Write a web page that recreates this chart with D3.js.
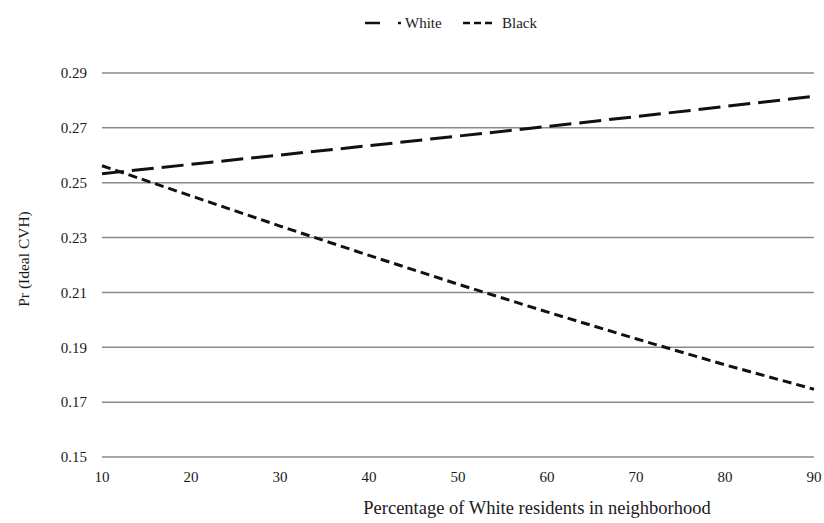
<!DOCTYPE html>
<html><head><meta charset="utf-8">
<script src="https://cdn.jsdelivr.net/npm/d3@7"></script>
<style>body{margin:0;background:#fff}svg{display:block}text{font-family:"Liberation Serif","Times New Roman",serif;fill:#1a1a1a}</style>
</head><body><svg id="c" width="824" height="523"></svg>
<script>
const xValues = [10,20,30,40,50,60,70,80,90];
const whiteValues = [0.2533,0.2567,0.2601,0.2635,0.2670,0.2705,0.2741,0.2778,0.2815];
const blackValues = [0.2562,0.2452,0.2342,0.2235,0.2130,0.2029,0.1931,0.1836,0.1747];
const yTicks = [0.15,0.17,0.19,0.21,0.23,0.25,0.27,0.29];
const seriesNames = ["White","Black"];

const svg = d3.select("#c");
const x = d3.scaleLinear().domain([10,90]).range([102,814]);
const y = d3.scaleLinear().domain([0.15,0.29]).range([457,73]);

// gridlines
svg.append("g").selectAll("line").data(yTicks).join("line")
  .attr("x1",x(10)).attr("x2",x(90)).attr("y1",d=>y(d)).attr("y2",d=>y(d))
  .attr("stroke","#8a8a8a").attr("stroke-width",1.5);

// y labels
svg.append("g").selectAll("text").data(yTicks).join("text")
  .attr("x",87).attr("y",d=>y(d)).attr("dy","0.35em").attr("text-anchor","end")
  .attr("font-size",15).text(d=>d.toFixed(2));

// x labels
svg.append("g").selectAll("text").data(xValues).join("text")
  .attr("x",d=>x(d)).attr("y",482).attr("text-anchor","middle")
  .attr("font-size",15).text(d=>d);

const line = d3.line().x((d,i)=>x(xValues[i])).y(d=>y(d));
svg.append("path").datum(whiteValues).attr("d",line).attr("fill","none")
  .attr("stroke","#111").attr("stroke-width",3).attr("stroke-dasharray","22,8");
svg.append("path").datum(blackValues).attr("d",line).attr("fill","none")
  .attr("stroke","#111").attr("stroke-width",3).attr("stroke-dasharray","9,5");

// axis titles
svg.append("text").attr("transform","translate(29,259) rotate(-90)")
  .attr("text-anchor","middle").attr("font-size",15.5).text("Pr (Ideal CVH)");
svg.append("text").attr("x",537).attr("y",514).attr("text-anchor","middle")
  .attr("font-size",18.5).text("Percentage of White residents in neighborhood");

// legend
const lg = svg.append("g");
lg.append("line").attr("x1",365).attr("x2",401).attr("y1",23).attr("y2",23)
  .attr("stroke","#111").attr("stroke-width",2.5).attr("stroke-dasharray","15,18,3");
lg.append("text").attr("x",405).attr("y",28).attr("font-size",15).text(seriesNames[0]);
lg.append("line").attr("x1",463).attr("x2",496).attr("y1",23).attr("y2",23)
  .attr("stroke","#111").attr("stroke-width",2.5).attr("stroke-dasharray","7,4");
lg.append("text").attr("x",502).attr("y",28).attr("font-size",15).text(seriesNames[1]);
</script></body></html>
